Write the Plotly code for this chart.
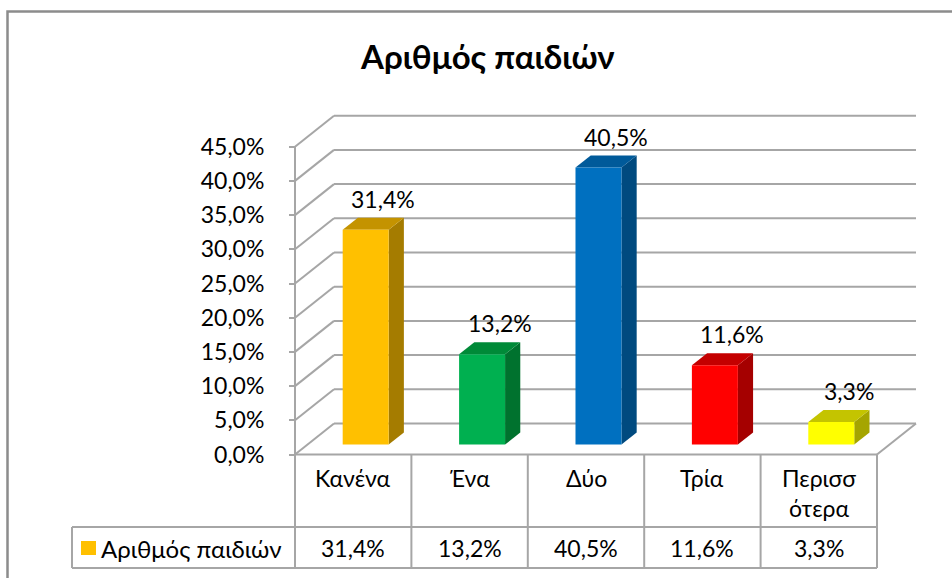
import plotly.graph_objects as go

# ---------------- data ----------------
title_text = "Αριθμός παιδιών"
series_name = "Αριθμός παιδιών"
categories = ["Κανένα", "Ένα", "Δύο", "Τρία", "Περισσότερα"]
category_display = ["Κανένα", "Ένα", "Δύο", "Τρία", "Περισσ<br>ότερα"]
values = [31.4, 13.2, 40.5, 11.6, 3.3]
y_ticks = [0, 5, 10, 15, 20, 25, 30, 35, 40, 45]

front_colors = ["#FFC000", "#00B050", "#0070C0", "#FF0000", "#FFFF00"]
side_colors = ["#A57C00", "#00722E", "#004A7F", "#A50000", "#A5A500"]
top_colors = ["#C49300", "#008A38", "#005A9A", "#C40000", "#C4C400"]

def fmt(v):
    return f"{v:.1f}".replace(".", ",") + "%"

# ---------------- geometry (page pixels -> axis units) ----------------
W, H = 952, 578
PX_X = 116.4          # pixels per category
PX_Y = 6.84           # pixels per percent
X0_PX = 295           # left edge of front plane (category -0.5)
Y0_PX = 454.5         # floor front line (0 %)
xmin = -0.5 - X0_PX / PX_X
xmax = xmin + W / PX_X
ymax = Y0_PX / PX_Y
ymin = ymax - H / PX_Y

def xpx(p):
    return xmin + p / PX_X

def ypx(p):
    return ymax - p / PX_Y

DX = 39 / PX_X        # depth offset of back wall (x units)
DY = 31 / PX_Y        # depth offset of back wall (y units)
F1, F2 = 0.32, 0.71   # bar front/back depth fractions
BW = 0.395            # bar width (category units)
n = len(categories)
left, right = -0.5, n - 0.5

GRID = "#A6A6A6"
LW = 2
FONT = "Lato, 'Noto Sans', sans-serif"
FS = 23

shapes = []
def line(x0, y0, x1, y1, color=GRID, width=LW, layer="below"):
    shapes.append(dict(type="line", x0=x0, y0=y0, x1=x1, y1=y1, xref="x", yref="y",
                       line=dict(color=color, width=width), layer=layer))

# back wall gridlines + diagonals
for t in y_ticks:
    line(left, t, left + DX, t + DY)
    line(left + DX, t + DY, right + DX, t + DY)
# front value axis
line(left, 0, left, y_ticks[-1])
# floor
line(left, 0, right, 0)
line(right, 0, right + DX, DY)

# data table
tab_top = 0
tab_mid = ypx(527)
tab_bot = ypx(568)
leg_left = xpx(72)
for k in range(n + 1):
    line(left + k, tab_top, left + k, tab_bot)
line(leg_left, tab_mid, right, tab_mid)
line(leg_left, tab_bot, right, tab_bot)
line(leg_left, tab_mid, leg_left, tab_bot)

# outer chart border
shapes.append(dict(type="rect", xref="paper", yref="paper",
                   x0=7.5 / W, x1=1.05, y0=-0.05, y1=1 - 11.5 / H,
                   line=dict(color="#8C8C8C", width=2.5), layer="below"))

fig = go.Figure()

# bars (front, side, top faces) computed from values
for i, v in enumerate(values):
    ox1, oy1 = DX * F1, DY * F1
    ox2, oy2 = DX * F2, DY * F2
    xl, xr = i - BW / 2 + ox1, i + BW / 2 + ox1
    xr2 = i + BW / 2 + ox2
    xl2 = i - BW / 2 + ox2
    fig.add_trace(go.Scatter(x=[xr, xr2, xr2, xr, xr], y=[oy1, oy2, v + oy2, v + oy1, oy1],
                             fill="toself", fillcolor=side_colors[i], mode="lines",
                             line=dict(width=0, color=side_colors[i]), hoverinfo="skip", showlegend=False))
    fig.add_trace(go.Scatter(x=[xl, xr, xr2, xl2, xl], y=[v + oy1, v + oy1, v + oy2, v + oy2, v + oy1],
                             fill="toself", fillcolor=top_colors[i], mode="lines",
                             line=dict(width=0, color=top_colors[i]), hoverinfo="skip", showlegend=False))
    fig.add_trace(go.Scatter(x=[xl, xr, xr, xl, xl], y=[oy1, oy1, v + oy1, v + oy1, oy1],
                             fill="toself", fillcolor=front_colors[i], mode="lines",
                             line=dict(width=0, color=front_colors[i]), hoverinfo="skip", showlegend=False))

annotations = []
TXT = dict(family=FONT, size=FS, color="#000000")
for i, v in enumerate(values):
    annotations.append(dict(x=i + DX * F1 + 0.15, y=v + DY * F1, xref="x", yref="y",
                            text=fmt(v), showarrow=False, yshift=31, font=TXT,
                            xanchor="center", yanchor="middle"))
for i, c in enumerate(category_display):
    annotations.append(dict(x=i, y=ypx(462), xref="x", yref="y", text=c, showarrow=False,
                            font=TXT, xanchor="center", yanchor="top"))
for i, v in enumerate(values):
    annotations.append(dict(x=i, y=ypx(548), xref="x", yref="y", text=fmt(v), showarrow=False,
                            font=TXT, xanchor="center", yanchor="middle"))
shapes.append(dict(type="rect", xref="x", yref="y", x0=xpx(81), x1=xpx(96), y0=ypx(555), y1=ypx(541),
                   fillcolor=front_colors[0], line=dict(width=0), layer="above"))
annotations.append(dict(x=xpx(99), y=ypx(548), xref="x", yref="y", text=series_name, showarrow=False,
                        font=dict(family=FONT, size=24, color="#000000"), xanchor="left", yanchor="middle"))
annotations.append(dict(x=488 / W, y=1 - 56 / H, xref="paper", yref="paper", text="<b>" + title_text + "</b>",
                        showarrow=False, font=dict(family=FONT, size=33, color="#000000"),
                        xanchor="center", yanchor="middle"))

fig.update_layout(
    width=W, height=H,
    margin=dict(l=0, r=0, t=0, b=0),
    paper_bgcolor="white", plot_bgcolor="white",
    showlegend=False,
    shapes=shapes, annotations=annotations,
    xaxis=dict(range=[xmin, xmax], visible=False, fixedrange=True),
    yaxis=dict(range=[ymin, ymax], anchor="free", position=X0_PX / W, side="left",
               tickvals=y_ticks, ticktext=[fmt(t) for t in y_ticks],
               ticks="outside", ticklen=6, tickwidth=2, tickcolor=GRID,
               showgrid=False, zeroline=False, showline=False,
               ticklabelstandoff=20,
               tickfont=dict(family=FONT, size=FS, color="#000000"), fixedrange=True),
)

fig.write_html("out.html", config={"displayModeBar": False},
               post_script="document.body.style.margin='0';document.body.style.overflow='hidden';")
